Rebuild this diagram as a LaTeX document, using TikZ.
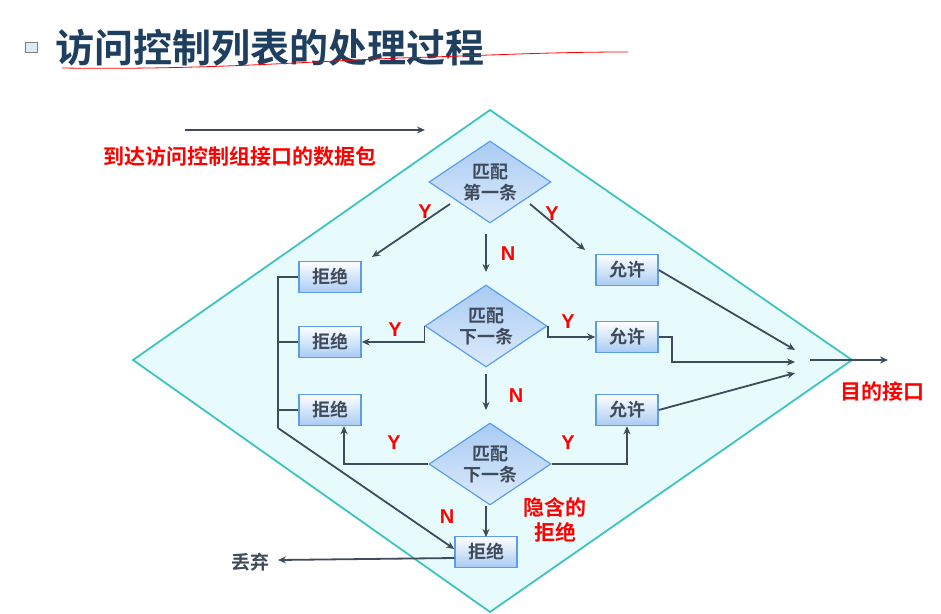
\documentclass[tikz,border=0pt]{standalone}
\usepackage{fontspec}
\newfontfamily\cjk{Noto Sans CJK SC}
\newfontfamily\cjkb{Noto Sans CJK SC Bold}
\setmainfont{Liberation Sans}
\usetikzlibrary{shapes.geometric,arrows.meta}
\definecolor{bigfill}{HTML}{E8FBFC}
\definecolor{bigline}{HTML}{3EC4BE}
\definecolor{bl}{HTML}{5C9DEB}
\definecolor{lite}{HTML}{DCEBFB}
\definecolor{mid}{HTML}{A9CBF3}
\definecolor{ink}{HTML}{3F4B5B}
\definecolor{ttl}{HTML}{1E3F5F}
\tikzset{
 dec/.style={diamond,draw=bl,line width=1.2pt,top color=mid,bottom color=lite,minimum width=122pt,minimum height=82pt,inner sep=0pt,align=center,font=\cjkb\fontsize{18}{21}\selectfont,text=ink,aspect=1.5},
 box/.style={rectangle,draw=bl,line width=1.5pt,top color=white,bottom color=mid,minimum width=62pt,minimum height=31pt,inner sep=0pt,font=\cjkb\fontsize{18}{20}\selectfont,text=ink},
 ar/.style={draw=ink,line width=1.8pt,-{Stealth[length=8pt,width=7pt]}},
 ln/.style={draw=ink,line width=1.8pt},
 yn/.style={text=red,font=\bfseries\fontsize{20}{22}\selectfont},
 rt/.style={text=red,font=\cjkb\fontsize{21}{25}\selectfont,align=center}
}
\begin{document}
\begin{tikzpicture}[x=1pt,y=-1pt]
\useasboundingbox (0,0) rectangle (941,613);
\fill[white] (0,0) rectangle (941,613);
% big diamond
\draw[bigline,fill=bigfill,line width=1.8pt] (490,110) -- (852,360) -- (490,612) -- (133,360) -- cycle;
% title
\node[font=\cjkb\fontsize{39}{42}\selectfont,text=ttl,anchor=west,inner sep=0pt] (title) at (55,48) {访问控制列表的处理过程};
\node[draw=gray,fill=lite,minimum width=12pt,minimum height=10pt,inner sep=0pt] (icon) at (31,47) {};
\draw[red,line width=0.8pt] (62,68) .. controls (200,70) and (300,62) .. (400,58) .. controls (500,55) and (550,52) .. (628,52);
% input
\coordinate (in1) at (185,130); \coordinate (in2) at (425,130);
\draw[ar] (in1) -- (in2);
\node[rt] (intext) at (240,157) {到达访问控制组接口的数据包};
% nodes
\node[dec] (d1) at (490,182) {匹配\\第一条};
\node[dec] (d2) at (486,326) {匹配\\下一条};
\node[dec] (d3) at (490,464) {匹配\\下一条};
\node[box] (r1) at (330,277) {拒绝};
\node[box] (r2) at (330,342) {拒绝};
\node[box] (r3) at (330,410) {拒绝};
\node[box] (a1) at (627,270) {允许};
\node[box] (a2) at (627,337) {允许};
\node[box] (a3) at (627,410) {允许};
\node[box] (r4) at (486,552) {拒绝};
% d1
\draw[ar] ([shift={(-40,22)}]d1.center) -- (372,257);
\draw[ar] ([shift={(40,22)}]d1.center) -- (585,250);
\draw[ar] ([shift={(-4,10)}]d1.south) -- (486,272);
\node[yn] (y1) at (425,212) {Y};
\node[yn] (y2) at (552,214) {Y};
\node[yn] (n1) at (508,254) {N};
% d2
\draw[ar] (d2.west) -- (d2.west |- r2.east) -- (r2.east);
\draw[ar] (d2.east) -- (d2.east |- a2.west) -- (a2.west);
\draw[ar] ([yshift=-6pt]d2.south) -- (486,410);
\node[yn] (y3) at (395,330) {Y};
\node[yn] (y4) at (568,322) {Y};
\node[yn] (n2) at (516,396) {N};
% d3
\draw[ar] (d3.west) -- (344,464) -- ([xshift=14pt]r3.south);
\draw[ar] (d3.east) -- (627,464) -- (a3.south);
\draw[ar] ([xshift=-4pt]d3.south) -- (486,537);
\node[yn] (y5) at (394,443) {Y};
\node[yn] (y6) at (568,443) {Y};
\node[yn] (n3) at (447,517) {N};
\node[rt] (imp) at (555,520) {隐含的\\拒绝};
% left
\draw[ln] (r1.west) -- (278,277) -- (278,428);
\draw[ln] (r2.west) -- (278,342);
\draw[ln] (r3.west) -- (278,410);
\draw[ar] (278,428) -- ([yshift=3pt]r4.west);
\draw[ar] ([yshift=-6pt]r4.west) -- (278,560);
\node[font=\cjkb\fontsize{19}{20}\selectfont,text=ink] (drop) at (250,562) {丢弃};
% right
\coordinate (m1) at (795,350); \coordinate (m2) at (795,362); \coordinate (m3) at (795,373);
\draw[ar] (a1.east) -- (m1);
\draw[ar] (a2.east) -- (672,337) -- (672,362) -- (m2);
\draw[ar] (a3.east) -- (m3);
\coordinate (o1) at (810,360); \coordinate (o2) at (888,360);
\draw[ar] (o1) -- (o2);
\node[rt] (dst) at (882,392) {目的接口};
\end{tikzpicture}
\end{document}
